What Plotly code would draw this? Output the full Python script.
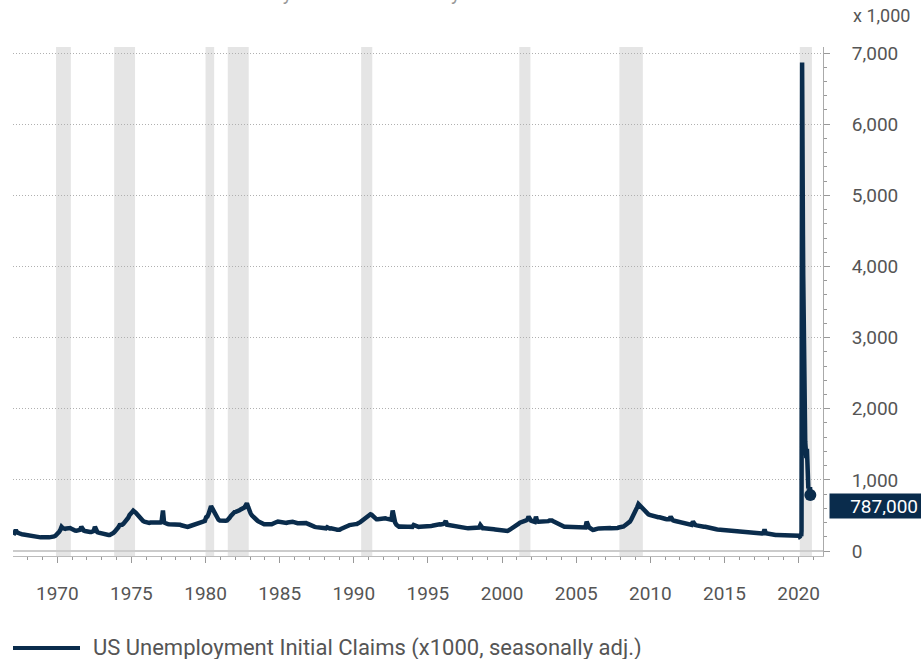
import pandas as pd
import plotly.graph_objects as go

# ---------------- data (thousands of initial claims, seasonally adjusted) ----------------
# monthly levels, Jan 1967 .. Dec 2019
claims_1967_1969 = [
    225, 270, 295, 262, 250, 245, 240, 236, 232, 230, 228, 226,
    225, 222, 220, 215, 210, 205, 200, 198, 195, 193, 192, 192,
    195, 192, 190, 190, 192, 192, 192, 195, 200, 205, 215, 228,
]
claims_1970s = [
    250, 270, 295, 340, 322, 310, 312, 318, 322, 328, 322, 312,
    298, 292, 288, 286, 285, 290, 298, 340, 300, 288, 282, 276,
    272, 270, 268, 268, 270, 280, 340, 275, 265, 258, 252, 250,
    248, 245, 240, 235, 230, 226, 225, 230, 240, 255, 272, 288,
    305, 335, 365, 360, 368, 382, 400, 418, 436, 468, 505, 540,
    545, 567, 560, 540, 520, 498, 472, 452, 436, 422, 412, 405,
    400, 400, 396, 400, 404, 400, 400, 402, 400, 400, 398, 400,
    425, 570, 400, 386, 380, 378, 375, 375, 375, 372, 370, 372,
    378, 375, 375, 370, 362, 355, 350, 346, 342, 340, 345, 352,
    362, 368, 372, 375, 380, 385, 390, 396, 402, 410, 416, 422,
]
claims_1980s = [
    475, 485, 520, 590, 630, 600, 568, 520, 483, 460, 440, 430,
    427, 425, 425, 427, 427, 430, 440, 468, 492, 518, 538, 548,
    550, 553, 560, 572, 585, 590, 600, 612, 640, 670, 620, 560,
    530, 500, 480, 460, 445, 436, 420, 410, 398, 386, 378, 375,
    375, 372, 370, 374, 375, 376, 380, 390, 400, 408, 413, 410,
    405, 396, 390, 390, 390, 394, 400, 405, 410, 413, 410, 405,
    396, 390, 390, 392, 395, 398, 400, 403, 400, 394, 385, 375,
    365, 356, 350, 345, 340, 336, 333, 330, 328, 325, 322, 320,
    320, 319, 335, 320, 318, 319, 319, 315, 310, 305, 300, 298,
    300, 310, 320, 330, 340, 345, 350, 356, 364, 370, 375, 378,
]
claims_1990s = [
    380, 378, 380, 385, 395, 408, 424, 440, 455, 470, 482, 492,
    505, 516, 510, 490, 470, 456, 446, 446, 450, 455, 460, 460,
    460, 460, 455, 450, 445, 440, 440, 570, 430, 400, 370, 350,
    342, 345, 342, 345, 342, 340, 342, 340, 342, 345, 342, 340,
    366, 355, 345, 342, 340, 342, 342, 340, 338, 340, 345, 348,
    350, 350, 352, 355, 360, 370, 375, 380, 378, 375, 372, 370,
    380, 395, 422, 370, 366, 366, 366, 360, 355, 350, 345, 340,
    338, 335, 333, 330, 328, 325, 325, 322, 320, 320, 319, 319,
    319, 320, 320, 322, 325, 330, 366, 330, 320, 319, 319, 319,
    319, 315, 312, 310, 308, 305, 303, 300, 298, 296, 295, 293,
]
claims_2000s = [
    290, 285, 282, 281, 282, 290, 300, 310, 320, 333, 342, 355,
    372, 385, 399, 410, 415, 420, 425, 430, 440, 483, 450, 427,
    420, 415, 410, 483, 413, 410, 410, 410, 413, 413, 413, 413,
    413, 420, 430, 436, 430, 420, 410, 400, 390, 380, 370, 360,
    350, 345, 342, 342, 342, 342, 340, 340, 338, 336, 335, 333,
    333, 333, 333, 332, 332, 330, 330, 330, 413, 350, 330, 320,
    305, 298, 300, 310, 315, 315, 318, 320, 322, 325, 328, 330,
    330, 328, 325, 322, 320, 319, 319, 319, 320, 325, 330, 333,
    333, 335, 345, 360, 370, 380, 395, 413, 440, 470, 505, 530,
    560, 620, 661, 640, 620, 600, 577, 560, 545, 530, 515, 507,
]
claims_2010s = [
    500, 495, 490, 485, 480, 478, 476, 474, 472, 470, 465, 460,
    450, 446, 444, 446, 483, 440, 430, 425, 420, 415, 410, 405,
    399, 395, 392, 388, 385, 380, 375, 372, 370, 368, 413, 375,
    366, 360, 355, 352, 350, 348, 345, 342, 340, 338, 335, 332,
    330, 325, 320, 315, 310, 305, 302, 300, 298, 296, 295, 295,
    293, 292, 290, 288, 286, 284, 282, 280, 278, 276, 274, 272,
    272, 270, 270, 268, 266, 265, 264, 262, 260, 260, 260, 258,
    258, 256, 255, 254, 252, 250, 248, 250, 305, 250, 245, 242,
    238, 235, 232, 230, 228, 226, 225, 225, 224, 224, 225, 225,
    225, 226, 225, 225, 225, 224, 224, 225, 225, 225, 224, 224,
]
# weekly values, weeks ending 4 Jan 2020 .. 17 Oct 2020
claims_2020_weekly = [
    214, 207, 223, 216, 203, 206, 211, 219, 217, 211, 282, 3307, 6867, 6615,
    5237, 4442, 3867, 3176, 2687, 2446, 2123, 1897, 1566, 1540, 1482, 1413,
    1310, 1307, 1422, 1435, 1191, 971, 1104, 1006, 881, 893, 866, 873, 849,
    845, 898, 787,
]

# NBER recessions (shaded)
rec_start = ["1969-12-01", "1973-11-01", "1980-01-01", "1981-07-01", "1990-07-01",
             "2001-03-01", "2007-12-01", "2020-02-01"]
rec_end = ["1970-11-30", "1975-03-31", "1980-07-31", "1982-11-30", "1991-03-31",
           "2001-11-30", "2009-06-30", "2020-11-25"]

series_name = "US Unemployment Initial Claims (x1000, seasonally adj.)"
subtitle = "Weekly data from January 1967 to October 2020"
y_ticks = [0, 1000, 2000, 3000, 4000, 5000, 6000, 7000]

# ---------------- build ----------------
monthly = (claims_1967_1969 + claims_1970s + claims_1980s + claims_1990s
           + claims_2000s + claims_2010s)
m_dates = pd.date_range("1967-01-01", periods=len(monthly), freq="MS") + pd.Timedelta(days=14)
w_dates = pd.date_range("2020-01-04", periods=len(claims_2020_weekly), freq="7D")
dates = list(m_dates) + list(w_dates)
values = monthly + claims_2020_weekly

NAVY = "#0a2c4c"
TXT = "#555555"
FONT = "Roboto, 'Open Sans', sans-serif"

fig = go.Figure()
fig.add_trace(go.Scatter(x=dates, y=values, mode="lines",
                         line=dict(color=NAVY, width=4.5), showlegend=False,
                         name=series_name))
fig.add_trace(go.Scatter(x=[dates[-1]], y=[values[-1]], mode="markers",
                         marker=dict(color=NAVY, size=12), showlegend=False))

for s, e in zip(rec_start, rec_end):
    fig.add_shape(type="rect", xref="x", yref="paper", x0=s, x1=e, y0=0, y1=1,
                  fillcolor="#e5e5e5", line=dict(width=0), layer="below")

W, H = 921, 659
ML, MR, MT, MB = 13, 98, 47, 103
PW, PH = W - ML - MR, H - MT - MB


def px(xp):
    return (xp - ML) / PW


def py(yp):
    return (H - MB - yp) / PH


# manual legend (long line sample)
fig.add_shape(type="line", xref="paper", yref="paper", x0=px(13), x1=px(80),
              y0=py(648), y1=py(648), line=dict(color=NAVY, width=4))
fig.add_annotation(xref="paper", yref="paper", x=px(91), y=py(648), xanchor="left",
                   yanchor="middle", text=series_name, showarrow=False,
                   font=dict(size=22, color=TXT, family=FONT))

# unit label
fig.add_annotation(xref="paper", yref="paper", x=px(851), y=py(15), xanchor="left",
                   yanchor="middle", text="x 1,000", showarrow=False,
                   font=dict(size=18, color=TXT, family=FONT))

# subtitle, mostly above the top edge as in the reference
fig.add_annotation(xref="paper", yref="paper", x=px(443), y=py(7), xanchor="center",
                   yanchor="bottom", text=subtitle, showarrow=False,
                   font=dict(size=20, color="#999999", family=FONT))

# last value label
last = values[-1]
fig.add_annotation(xref="paper", yref="y", x=1, xshift=6, y=last, yshift=-11,
                   xanchor="left", yanchor="middle", text=f"{int(last * 1000):,}",
                   showarrow=False, bgcolor=NAVY, borderpad=3, width=85, height=18,
                   align="right", font=dict(size=19, color="white", family=FONT))

fig.update_layout(
    width=W, height=H,
    margin=dict(l=ML, r=MR, t=MT, b=MB),
    paper_bgcolor="white", plot_bgcolor="white",
    font=dict(family=FONT, color=TXT),
    showlegend=False,
    xaxis=dict(
        type="date", range=["1967-01-05", "2021-08-25"],
        showgrid=False, zeroline=False,
        showline=True, linecolor="#bbbbbb", linewidth=1,
        ticks="outside", ticklen=6, tickcolor="#999999", tickwidth=1,
        tick0="1970-01-01", dtick="M60", tickformat="%Y",
        tickfont=dict(size=19, color=TXT, family=FONT),
        ticklabelstandoff=14,
        minor=dict(ticks="outside", ticklen=3, tickcolor="#999999",
                   dtick="M12", tick0="1967-01-01", showgrid=False),
    ),
    yaxis=dict(
        side="right", range=[-70, 7085],
        tickvals=y_ticks, tickformat=",",
        showgrid=True, gridcolor="#b0b0b0", griddash="1px,2px", gridwidth=1,
        zeroline=True, zerolinecolor="#cccccc", zerolinewidth=2,
        showline=True, linecolor="#aaaaaa", linewidth=1,
        ticks="outside", ticklen=6, tickcolor="#999999",
        tickfont=dict(size=19, color=TXT, family=FONT),
        ticklabelstandoff=18,
        minor=dict(ticks="outside", ticklen=3, tickcolor="#999999", dtick=200,
                   tick0=0, showgrid=False),
    ),
)

fig.write_html("out.html", config={"displayModeBar": False},
               post_script="document.body.style.margin='0';document.body.style.overflow='hidden';")
